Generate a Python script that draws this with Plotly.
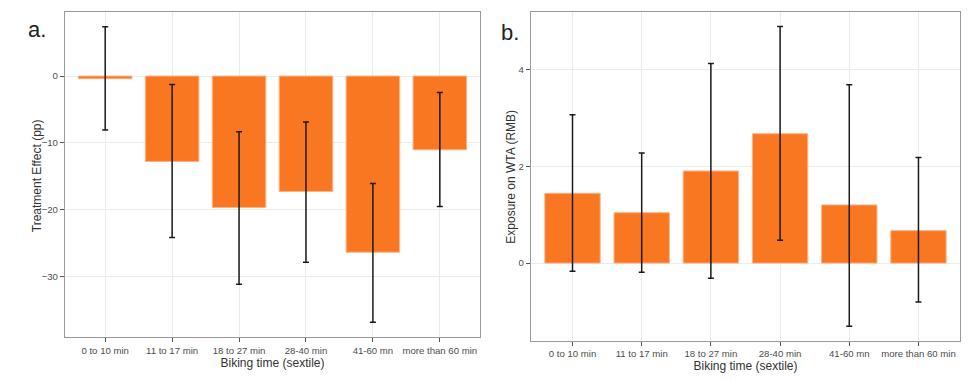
import plotly.graph_objects as go

categories = ["0 to 10 min", "11 to 17 min", "18 to 27 min", "28-40 min", "41-60 mn", "more than 60 min"]

# Panel a: treatment effect (pp)
effect_a = [-0.4, -12.8, -19.7, -17.3, -26.4, -11.05]
lower_a = [-8.1, -24.2, -31.2, -27.9, -36.9, -19.55]
upper_a = [7.4, -1.25, -8.35, -6.9, -16.1, -2.45]

# Panel b: exposure on WTA (RMB)
effect_b = [1.44, 1.04, 1.9, 2.67, 1.2, 0.67]
lower_b = [-0.17, -0.19, -0.31, 0.47, -1.3, -0.8]
upper_b = [3.06, 2.27, 4.12, 4.88, 3.68, 2.18]

BAR = "#F87720"
FONT = "Liberation Sans, Arial, sans-serif"

fig = go.Figure()


def add_panel(est, lo, hi, xa, ya):
    fig.add_trace(go.Bar(
        x=categories, y=est, width=0.8,
        marker=dict(color=BAR, line=dict(color="#FBB386", width=1)),
        error_y=dict(type="data", symmetric=False,
                     array=[h - e for h, e in zip(hi, est)],
                     arrayminus=[e - l for e, l in zip(est, lo)],
                     color="#1a1a1a", thickness=1.5, width=3),
        xaxis=xa, yaxis=ya, showlegend=False,
    ))


add_panel(effect_a, lower_a, upper_a, "x", "y")
add_panel(effect_b, lower_b, upper_b, "x2", "y2")

axis_common = dict(
    showline=True, linecolor="#9a9a9a", linewidth=1.3, mirror=True,
    showgrid=True, gridcolor="#ebebeb", gridwidth=1,
    ticks="outside", ticklen=4, tickcolor="#555555",
    tickfont=dict(family=FONT, size=9.6, color="#4d4d4d"),
    zeroline=False,
)
title_font = dict(family=FONT, size=12, color="#333333")

fig.update_layout(
    width=975, height=381,
    margin=dict(l=0, r=0, t=0, b=0),
    paper_bgcolor="white", plot_bgcolor="white",
    bargap=0.2,
    xaxis=dict(domain=[0.0667, 0.4923], anchor="y", range=[-0.6, 5.6],
               title=dict(text="Biking time (sextile)", font=title_font, standoff=3),
               **axis_common),
    yaxis=dict(domain=[0.1155, 0.9685], anchor="x", range=[-39.1, 9.6],
               tickvals=[0, -10, -20, -30], **axis_common),
    xaxis2=dict(domain=[0.5446, 0.9846], anchor="y2", range=[-0.6, 5.6],
                title=dict(text="Biking time (sextile)", font=title_font, standoff=3),
                **axis_common),
    yaxis2=dict(domain=[0.1058, 0.9685], anchor="x2", range=[-1.6, 5.18],
                tickvals=[0, 2, 4], **axis_common),
    annotations=[
        dict(text="a.", x=26 / 975, y=1 - 30 / 381, xref="paper", yref="paper",
             xanchor="left", yanchor="middle", showarrow=False,
             font=dict(family=FONT, size=22, color="#222")),
        dict(text="b.", x=499 / 975, y=1 - 32 / 381, xref="paper", yref="paper",
             xanchor="left", yanchor="middle", showarrow=False,
             font=dict(family=FONT, size=22, color="#222")),
        dict(text="Treatment Effect (pp)", x=36.7 / 975, y=1 - 175.5 / 381,
             xref="paper", yref="paper", xanchor="center", yanchor="middle",
             textangle=-90, showarrow=False, font=title_font),
        dict(text="Exposure on WTA (RMB)", x=510.7 / 975, y=1 - 177 / 381,
             xref="paper", yref="paper", xanchor="center", yanchor="middle",
             textangle=-90, showarrow=False, font=title_font),
    ],
)

fig.write_html("out.html", post_script="document.body.style.margin='0';",
               config={"displayModeBar": False})
